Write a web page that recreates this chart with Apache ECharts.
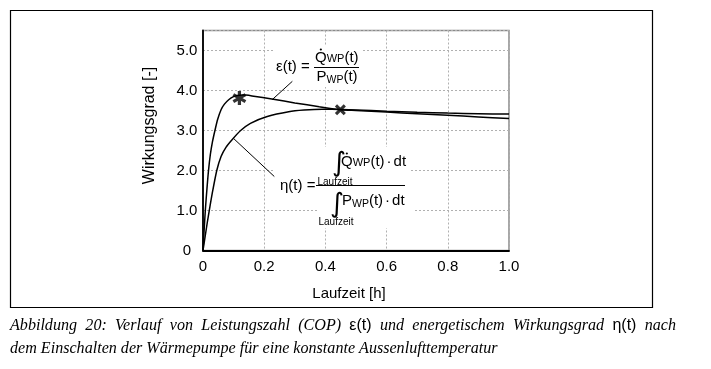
<!DOCTYPE html>
<html><head><meta charset="utf-8">
<script src="https://cdn.jsdelivr.net/npm/echarts@6/dist/echarts.min.js"></script>
<style>html,body{margin:0;padding:0;background:#fff}#c{width:711px;height:369px}</style>
</head><body><div id="c"></div>
<script>
// ---- data ----
const xTicks = [0, 0.2, 0.4, 0.6, 0.8, 1.0];
const yTicks = [0, 1, 2, 3, 4, 5];
const epsX = [0, 0.004, 0.008, 0.013, 0.018, 0.024, 0.031, 0.039, 0.048, 0.059, 0.07, 0.084, 0.098, 0.112, 0.128, 0.14, 0.16, 0.23, 0.3, 0.38, 0.45, 0.5, 0.6, 0.7, 0.8, 0.9, 1.0];
const epsY = [0, 0.55, 1.05, 1.55, 2.0, 2.4, 2.72, 3.0, 3.28, 3.52, 3.66, 3.77, 3.84, 3.875, 3.89, 3.885, 3.865, 3.78, 3.69, 3.595, 3.52, 3.5, 3.46, 3.42, 3.38, 3.34, 3.30];
const etaX = [0, 0.007, 0.014, 0.021, 0.03, 0.045, 0.059, 0.075, 0.095, 0.123, 0.155, 0.21, 0.28, 0.33, 0.39, 0.45, 0.5, 0.6, 0.7, 0.8, 0.9, 1.0];
const etaY = [0, 0.35, 0.7, 1.02, 1.42, 2.0, 2.35, 2.58, 2.77, 3.0, 3.18, 3.35, 3.47, 3.51, 3.53, 3.525, 3.515, 3.48, 3.455, 3.435, 3.42, 3.41];
const starPoint = [0.119, 3.81];
const crossPoint = [0.449, 3.52];
const epsLeader = [[0.226, 3.77], [0.292, 4.23]];
const etaLeader = [[0.1, 2.8], [0.233, 1.85]];
const xName = 'Laufzeit [h]';
const yName = 'Wirkungsgrad [-]';
// caption line 1 words: [text, isSans]
const captionL1 = [['Abbildung', 0], ['20:', 0], ['Verlauf', 0], ['von', 0], ['Leistungszahl', 0], ['(COP)', 0], ['ε(t)', 1], ['und', 0], ['energetischem', 0], ['Wirkungsgrad', 0], ['η(t)', 1], ['nach', 0]];
const captionL2 = 'dem Einschalten der Wärmepumpe für eine konstante Aussenlufttemperatur';

// ---- helpers ----
const SANS = '"Liberation Sans", Arial, sans-serif';
const SERIF = '"Liberation Serif", "Times New Roman", serif';
function barsPath(angles, r, w) {
  let s = '';
  angles.forEach(a => {
    const t = a * Math.PI / 180, dx = Math.cos(t), dy = Math.sin(t), nx = -dy, ny = dx;
    const p = [[r*dx + w*nx, r*dy + w*ny], [-r*dx + w*nx, -r*dy + w*ny], [-r*dx - w*nx, -r*dy - w*ny], [r*dx - w*nx, r*dy - w*ny]];
    s += 'M' + p.map(q => q[0].toFixed(2) + ',' + q[1].toFixed(2)).join('L') + 'Z';
  });
  return 'path://' + s;
}
const mctx = document.createElement('canvas').getContext('2d');
function tw(t, size, fam, italic) { mctx.font = (italic ? 'italic ' : '') + size + 'px ' + (fam || SANS); return mctx.measureText(t).width; }
function txt(t, x, y, size, opts) {
  opts = opts || {};
  return { type: 'text', x: x, y: y, z: 10, silent: true,
    style: { text: t, font: (opts.italic ? 'italic ' : '') + size + 'px ' + (opts.fam || SANS), fill: '#000',
      align: opts.align || 'left', textAlign: opts.align || 'left', verticalAlign: 'middle', textVerticalAlign: 'middle' } };
}
function seq(x0, yc, parts) {
  const out = []; let x = x0;
  parts.forEach(p => { out.push(txt(p.t, x, yc + (p.dy || 0), p.s, p)); x += tw(p.t, p.s, p.fam, p.italic) + (p.gap || 0); });
  return out;
}
function seqWidth(parts) { return parts.reduce((a, p) => a + tw(p.t, p.s, p.fam, p.italic) + (p.gap || 0), 0); }
function hline(x1, x2, y) { return { type: 'line', z: 10, silent: true, shape: { x1: x1, y1: y, x2: x2, y2: y }, style: { stroke: '#000', lineWidth: 1 } }; }
function whiteRect(x, y, w, h) { return { type: 'rect', z: 1, silent: true, shape: { x: x, y: y, width: w, height: h }, style: { fill: '#fff' } }; }
function dot(x, y) { return { type: 'circle', z: 10, silent: true, shape: { cx: x, cy: y, r: 1.1 }, style: { fill: '#000' } }; }

const F = 15;
const INTF = '"DejaVu Sans", sans-serif';
const graphics = [];
// outer frame
graphics.push({ type: 'rect', z: 0, silent: true, shape: { x: 10.5, y: 10.5, width: 642, height: 297 }, style: { fill: 'none', stroke: '#000', lineWidth: 1.2 } });
// white boxes behind formulas
graphics.push(whiteRect(273, 45, 89, 42));
graphics.push(whiteRect(273, 147, 137, 58));
graphics.push(whiteRect(317, 205, 96, 23));
// epsilon formula
graphics.push(txt('ε(t) =', 276, 67, F));
const numE = [{ t: 'Q', s: F }, { t: 'WP', s: 11, dy: 1 }, { t: '(t)', s: F }];
graphics.push(...seq(315, 58, numE));
graphics.push(dot(315 + tw('Q', F) / 2, 49.5));
graphics.push(hline(314, 359, 67.5));
const denE = [{ t: 'P', s: F }, { t: 'WP', s: 10.5, dy: 3 }, { t: '(t)', s: F }];
graphics.push(...seq(337 - seqWidth(denE) / 2, 77, denE));
// eta formula
graphics.push(txt('η(t) =', 280, 185.5, F));
graphics.push(hline(316, 405, 185.5));
graphics.push(txt('∫', 332, 163.5, 27, { fam: INTF }));
const numH = [{ t: 'Q', s: F }, { t: 'WP', s: 11, dy: 1 }, { t: '(t)', s: F, gap: 2 }, { t: '·', s: F, gap: 2 }, { t: 'dt', s: F }];
graphics.push(...seq(341, 162, numH));
graphics.push(dot(341 + tw('Q', F) / 2, 153.5));
graphics.push(txt('Laufzeit', 335, 182, 10, { align: 'center' }));
graphics.push(txt('∫', 330, 204.5, 27, { fam: INTF }));
const denH = [{ t: 'P', s: F }, { t: 'WP', s: 10.5, dy: 3 }, { t: '(t)', s: F, gap: 2 }, { t: '·', s: F, gap: 2 }, { t: 'dt', s: F }];
graphics.push(...seq(342, 201, denH));
graphics.push(txt('Laufzeit', 336, 222, 10, { align: 'center' }));
// caption: line 1 justified between x=10 and x=676
const CAP = 16.1;
(function () {
  const left = 10, right = 676, y = 326;
  const ws = captionL1.map(w => w[1] ? tw(w[0], 16, SANS) : tw(w[0], CAP, SERIF, true));
  const total = ws.reduce((a, b) => a + b, 0);
  const gap = (right - left - total) / (captionL1.length - 1);
  let x = left;
  captionL1.forEach((w, i) => {
    graphics.push(w[1] ? txt(w[0], x, y, 16) : txt(w[0], x, y, CAP, { italic: true, fam: SERIF }));
    x += ws[i] + gap;
  });
})();
graphics.push(txt(captionL2, 10, 349, CAP, { italic: true, fam: SERIF }));

const epsData = epsX.map((x, i) => [x, epsY[i]]);
const etaData = etaX.map((x, i) => [x, etaY[i]]);
const fmt = v => (v === 0 ? '0' : v.toFixed(1));

const chart = echarts.init(document.getElementById('c'), null, { renderer: 'canvas' });
chart.setOption({
  animation: false,
  backgroundColor: '#fff',
  textStyle: { fontFamily: SANS },
  grid: { left: 203, top: 30.5, width: 306, height: 220, show: true, borderColor: '#8a8a8a', borderWidth: 1.5, backgroundColor: 'transparent' },
  xAxis: {
    type: 'value', min: xTicks[0], max: xTicks[xTicks.length - 1], interval: 0.2,
    name: xName, nameLocation: 'middle', nameGap: 36,
    nameTextStyle: { fontSize: 15, color: '#000', padding: [0, 14, 0, 0] },
    axisLine: { show: true, onZero: false, lineStyle: { color: '#000', width: 1.8 } },
    axisTick: { show: false },
    axisLabel: { fontSize: 15, color: '#000', margin: 9, formatter: fmt },
    splitLine: { show: true, lineStyle: { color: '#b0b0b0', width: 1, type: [2, 2] } }
  },
  yAxis: {
    type: 'value', min: yTicks[0], max: 5.5, interval: 1,
    name: yName, nameLocation: 'middle', nameGap: 45,
    nameTextStyle: { fontSize: 16, color: '#000', padding: [0, 0, 0, 30] },
    axisLine: { show: true, onZero: false, lineStyle: { color: '#000', width: 1.8 } },
    axisTick: { show: false },
    axisLabel: { fontSize: 15, color: '#000', margin: 16, align: 'center', formatter: fmt, showMaxLabel: false },
    splitLine: { show: true, lineStyle: { color: '#b0b0b0', width: 1, type: [2, 2] } }
  },
  series: [
    { type: 'line', name: 'eps', data: epsData, showSymbol: false, smooth: 0.25, z: 3,
      lineStyle: { color: '#000', width: 1.5 },
      markLine: { silent: true, symbol: ['none', 'none'], label: { show: false }, lineStyle: { color: '#000', width: 1, type: 'solid' },
        data: [[{ coord: epsLeader[0] }, { coord: epsLeader[1] }], [{ coord: etaLeader[0] }, { coord: etaLeader[1] }]] } },
    { type: 'line', name: 'eta', data: etaData, showSymbol: false, smooth: 0.25, z: 3,
      lineStyle: { color: '#000', width: 1.5 } },
    { type: 'scatter', data: [starPoint], symbol: barsPath([90, 30, 150], 6.5, 1.5), symbolKeepAspect: true, symbolSize: 14, z: 5,
      itemStyle: { color: '#000' } },
    { type: 'scatter', data: [crossPoint], symbol: barsPath([45, 135], 6.5, 1.6), symbolKeepAspect: true, symbolSize: 11, z: 5,
      itemStyle: { color: '#000' } }
  ],
  graphic: graphics
});
</script></body></html>
